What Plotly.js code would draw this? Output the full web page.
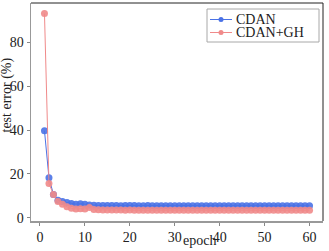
<!DOCTYPE html>
<html><head><meta charset="utf-8">
<script src="https://cdn.plot.ly/plotly-3.0.1.min.js"></script>
<style>html,body{margin:0;padding:0;background:#fff}#c{width:329px;height:251px}</style>
</head><body><div id="c"></div>
<script>
const epochs = Array.from({length:60},(_,i)=>i+1);
const cdan = [39.7,18.2,10.6,8.0,7.4,7.0,6.5,6.2,6.4,6.2,5.8,5.7,5.6,5.6,5.6,5.6,5.6,5.5,5.6,5.6,
  5.6,5.5,5.5,5.6,5.5,5.5,5.5,5.5,5.5,5.5,5.5,5.5,5.5,5.5,5.5,5.5,5.5,5.5,5.5,5.5,
  5.5,5.5,5.5,5.5,5.5,5.5,5.5,5.5,5.5,5.5,5.5,5.5,5.5,5.5,5.5,5.5,5.5,5.5,5.5,5.5];
const cdanGH = [93.2,15.6,10.6,7.4,6.2,5.0,4.3,4.0,4.1,4.0,4.7,3.7,3.6,3.5,3.5,3.5,3.5,3.5,3.4,3.5,
  3.4,3.4,3.4,3.4,3.4,3.4,3.4,3.4,3.4,3.4,3.4,3.4,3.4,3.4,3.4,3.4,3.4,3.4,3.4,3.4,
  3.4,3.4,3.4,3.4,3.4,3.4,3.4,3.4,3.4,3.4,3.4,3.4,3.4,3.4,3.4,3.4,3.4,3.4,3.4,3.4];
const names = ['CDAN','CDAN+GH'];
const colors = ['#4a72e6','#f08a8a'];
const xTicks = [0,10,20,30,40,50,60];
const yTicks = [0,20,40,60,80];

const font = 'Liberation Serif';
const traces = [cdan, cdanGH].map((ys,i)=>({
  x:epochs,y:ys,name:names[i],mode:'lines+markers',
  line:{color:colors[i],width:1},marker:{color:colors[i],size:7,opacity:0.9}
}));

// plot area in pixels: x 31..323, y 3..221
const W = 292, H = 218;
const px = v => (v-31)/W, py = v => (221-v)/H;
const rowY = [19.5, 32.5];
const bx0 = px(207), bx1 = px(319), by0 = py(9), by1 = py(42);
const boxLine = {color:'#a8a8a8',width:1};
const legendShapes = [
  {type:'line',xref:'paper',yref:'paper',x0:bx0,x1:bx1,y0:by0,y1:by0,line:boxLine},
  {type:'line',xref:'paper',yref:'paper',x0:bx0,x1:bx1,y0:by1,y1:by1,line:boxLine},
  {type:'line',xref:'paper',yref:'paper',x0:bx0,x1:bx0,y0:by0,y1:by1,line:boxLine},
  {type:'line',xref:'paper',yref:'paper',x0:bx1,x1:bx1,y0:by0,y1:by1,line:boxLine}
];
const legendAnn = [];
names.forEach((n,i)=>{
  legendShapes.push({type:'line',xref:'paper',yref:'paper',x0:px(210),x1:px(232),y0:py(rowY[i]),y1:py(rowY[i]),
    line:{color:colors[i],width:1}});
  legendShapes.push({type:'circle',xref:'paper',yref:'paper',x0:px(218.5),x1:px(223.5),y0:py(rowY[i]+2.5),y1:py(rowY[i]-2.5),
    fillcolor:colors[i],line:{width:0}});
  legendAnn.push({text:n,xref:'paper',yref:'paper',x:px(234),y:py(rowY[i]),xanchor:'left',yanchor:'middle',
    showarrow:false,font:{family:font,size:14,color:'#222'}});
});

const layout = {
  width:329,height:251,margin:{l:31,r:6,t:3,b:30},
  paper_bgcolor:'#fff',plot_bgcolor:'#fff',
  font:{family:font,size:14,color:'#222'},
  showlegend:false,
  xaxis:{range:[-2,63],tickvals:xTicks,ticks:'outside',ticklen:3,tickcolor:'#888',
    showgrid:false,zeroline:false,showline:true,linecolor:'#999',linewidth:1.5,
    tickfont:{family:font,size:14,color:'#222'}},
  yaxis:{range:[-1.5,98],tickvals:yTicks,ticks:'outside',ticklen:3,tickcolor:'#888',
    showgrid:false,zeroline:false,showline:true,linecolor:'#999',linewidth:1.5,
    tickfont:{family:font,size:14,color:'#222'}},
  shapes:[
    {type:'line',xref:'paper',yref:'paper',x0:0,x1:1,y0:1,y1:1,line:{color:'#222',width:1}},
    {type:'line',xref:'paper',yref:'paper',x0:1,x1:1,y0:0,y1:1,line:{color:'#222',width:1}}
  ].concat(legendShapes),
  annotations:[
    {text:'epoch',xref:'paper',yref:'paper',x:px(199.5),y:py(241),yanchor:'middle',showarrow:false,
     font:{family:font,size:14,color:'#222'}},
    {text:'test error (%)',xref:'paper',yref:'paper',x:px(6.5),xanchor:'center',y:py(95),yanchor:'middle',
     textangle:-90,showarrow:false,font:{family:font,size:14,color:'#222'}}
  ].concat(legendAnn)
};
Plotly.newPlot('c',traces,layout,{displayModeBar:false,staticPlot:true});
</script></body></html>
